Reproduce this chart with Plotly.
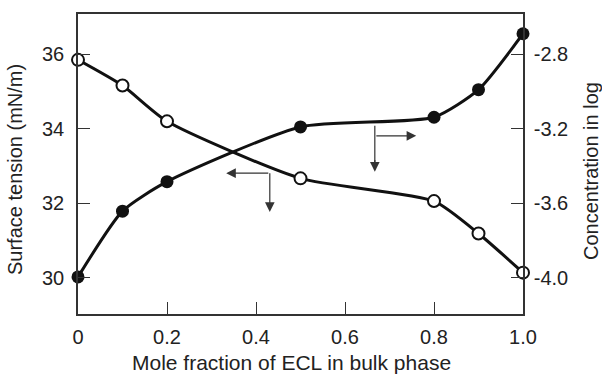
import plotly.graph_objects as go

x_vals = [0, 0.1, 0.2, 0.5, 0.8, 0.9, 1.0]
surface_tension = [35.85, 35.16, 34.20, 32.67, 32.06, 31.19, 30.14]
log_conc = [-3.995, -3.642, -3.484, -3.19, -3.138, -2.99, -2.69]

x_ticks = [0, 0.2, 0.4, 0.6, 0.8, 1.0]
x_ticklabels = ["0", "0.2", "0.4", "0.6", "0.8", "1.0"]
left_ticks = [30, 32, 34, 36]
right_ticks = [-4.0, -3.6, -3.2, -2.8]
right_ticklabels = ["-4.0", "-3.6", "-3.2", "-2.8"]

FONT = "Liberation Sans, Arial, sans-serif"
INK = "#111111"
TXT = "#222222"

fig = go.Figure()
fig.add_trace(go.Scatter(
    x=x_vals, y=surface_tension, mode="lines+markers",
    line=dict(color=INK, width=3, shape="spline", smoothing=0.6),
    marker=dict(symbol="circle", size=12, color="white", line=dict(color=INK, width=2)),
    cliponaxis=False, showlegend=False, yaxis="y"))
fig.add_trace(go.Scatter(
    x=x_vals, y=log_conc, mode="lines+markers",
    line=dict(color=INK, width=3, shape="spline", smoothing=0.6),
    marker=dict(symbol="circle", size=13, color=INK, line=dict(color=INK, width=0)),
    cliponaxis=False, showlegend=False, yaxis="y2"))

left_range = [29.03, 37.08]
right_range = [-4.0 + (left_range[0] - 30) * 0.2, -4.0 + (left_range[1] - 30) * 0.2]

axis_common = dict(showgrid=False, zeroline=False, showline=True, linecolor="#333333",
                   linewidth=1.5, ticks="inside", ticklen=12, tickwidth=1.2,
                   tickcolor="#333333", tickfont=dict(family=FONT, size=20, color=TXT))

fig.update_layout(
    width=602, height=375,
    margin=dict(l=78, r=79, t=14, b=61),
    paper_bgcolor="white", plot_bgcolor="white",
    xaxis=dict(range=[0, 1.0], tickvals=x_ticks, ticktext=x_ticklabels, mirror=True,
               ticklabelstandoff=4, **axis_common),
    yaxis=dict(range=left_range, tickvals=left_ticks, ticklabelstandoff=8, **axis_common),
    yaxis2=dict(range=right_range, tickvals=right_ticks, ticktext=right_ticklabels,
                overlaying="y", side="right", ticklabelstandoff=5, **axis_common),
)

title_font = dict(family=FONT, size=20, color=TXT)
fig.add_annotation(text="Mole fraction of ECL in bulk phase", xref="paper", yref="paper",
                   x=0.5, y=0, xanchor="center", yanchor="middle", xshift=-9, yshift=-48,
                   showarrow=False, font=dict(family=FONT, size=21, color=TXT))
fig.add_annotation(text="Surface tension (mN/m)", xref="paper", yref="paper",
                   x=0, y=0.5, xanchor="center", yanchor="middle", xshift=-63, yshift=-6,
                   textangle=-90, showarrow=False, font=title_font)
fig.add_annotation(text="Concentration in log", xref="paper", yref="paper",
                   x=1, y=0.5, xanchor="center", yanchor="middle", xshift=68, yshift=-7,
                   textangle=-90, showarrow=False, font=title_font)

# Indicator arrows (which curve belongs to which axis)
arrow_color = "#333333"
# Left arrow (surface tension)
fig.add_shape(type="line", x0=0.431, x1=0.431, y0=32.81, y1=31.95, xref="x", yref="y",
              line=dict(color=arrow_color, width=1.2))
fig.add_annotation(x=0.431, y=31.77, ax=0.431, ay=32.0, xref="x", yref="y", axref="x", ayref="y",
                   showarrow=True, arrowhead=2, arrowsize=1.6, arrowwidth=1.2, arrowcolor=arrow_color, text="")
fig.add_annotation(x=0.333, y=32.81, ax=0.431, ay=32.81, xref="x", yref="y", axref="x", ayref="y",
                   showarrow=True, arrowhead=2, arrowsize=1.6, arrowwidth=1.2, arrowcolor=arrow_color, text="")
# Right arrow (concentration)
fig.add_shape(type="line", x0=0.667, x1=0.667, y0=34.08, y1=33.1, xref="x", yref="y",
              line=dict(color=arrow_color, width=1.2))
fig.add_annotation(x=0.667, y=32.85, ax=0.667, ay=33.2, xref="x", yref="y", axref="x", ayref="y",
                   showarrow=True, arrowhead=2, arrowsize=1.6, arrowwidth=1.2, arrowcolor=arrow_color, text="")
fig.add_annotation(x=0.76, y=33.81, ax=0.667, ay=33.81, xref="x", yref="y", axref="x", ayref="y",
                   showarrow=True, arrowhead=2, arrowsize=1.6, arrowwidth=1.2, arrowcolor=arrow_color, text="")

fig.write_html("out.html")
